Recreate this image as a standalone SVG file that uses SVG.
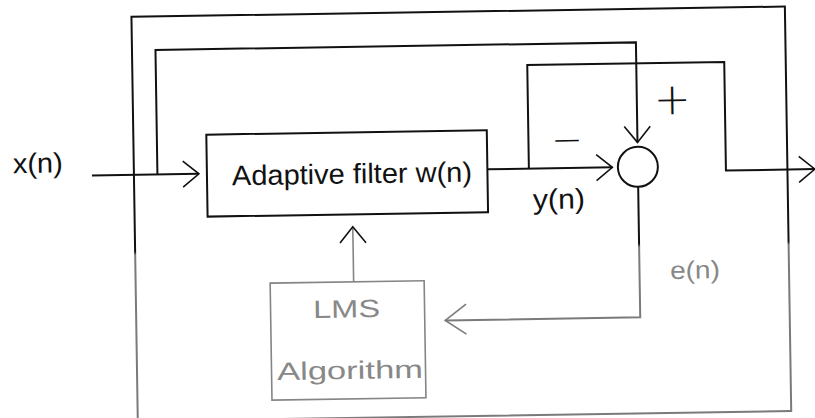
<svg xmlns="http://www.w3.org/2000/svg" width="815" height="418" viewBox="0 0 815 418">
<style>
  .ln { fill: none; stroke: #111; stroke-width: 2; }
  .lg { fill: none; stroke: url(#fade); stroke-width: 2; }
  .box { fill: none; stroke: #111; stroke-width: 2; }
  .boxg { fill: none; stroke: #858585; stroke-width: 1.6; }
  .t { font-family: "Liberation Sans", Arial, sans-serif; font-size: 28px; fill: #111; }
  .tg { font-family: "Liberation Sans", Arial, sans-serif; font-size: 25px; fill: #888; }
  .sym { font-family: "DejaVu Sans", sans-serif; font-weight: 200; fill: #111; text-anchor: middle; }
</style>
<defs>
  <linearGradient id="fade" gradientUnits="userSpaceOnUse" x1="0" y1="0" x2="0" y2="418">
    <stop offset="0.592" stop-color="#111"/>
    <stop offset="0.600" stop-color="#7a7a7a"/>
  </linearGradient>
  <marker id="ah" markerUnits="userSpaceOnUse" orient="auto" markerWidth="40" markerHeight="40" viewBox="-20 -20 40 40" refX="0" refY="0" overflow="visible">
    <path d="M-16,-13 L0,0 L-16,13" fill="none" stroke="#111" stroke-width="1.6"/>
  </marker>
  <marker id="ahg" markerUnits="userSpaceOnUse" orient="auto" markerWidth="40" markerHeight="40" viewBox="-20 -20 40 40" refX="0" refY="0" overflow="visible">
    <path d="M-21,-14 L0,0 L-21,16" fill="none" stroke="#7a7a7a" stroke-width="1.6"/>
  </marker>
</defs>
<rect width="815" height="418" fill="#fff"/>
<g transform="rotate(-0.9 407 209)">
  <g id="frame">
    <rect class="lg" x="134.5" y="12.5" width="653.5" height="404.5"/>
  </g>
  <g id="connectors">
    <path class="ln" d="M92.5,170.5 H199.5" marker-end="url(#ah)"/>
    <path class="ln" d="M158,170.5 V46 H638.5 V146" marker-end="url(#ah)"/>
    <path class="ln" d="M488,170.5 H613" marker-end="url(#ah)"/>
    <path class="ln" d="M529.5,170.5 V67 H726.5 V175.5 H815.5" marker-end="url(#ah)"/>
    <path class="boxg" d="M352.5,281 V226" marker-end="url(#ah)"/>
    <path class="lg" d="M638.5,190.5 V321 H443.5" marker-end="url(#ahg)"/>
  </g>
  <g id="input-label">
    <text class="t" x="13.5" y="167" textLength="50" lengthAdjust="spacingAndGlyphs">x(n)</text>
  </g>
  <g id="filter">
    <rect class="box" x="207.5" y="131.5" width="280.5" height="82"/>
    <text class="t" x="232.5" y="182.5" textLength="240" lengthAdjust="spacingAndGlyphs">Adaptive filter w(n)</text>
  </g>
  <g id="output-label">
    <text class="t" x="533" y="211" textLength="52" lengthAdjust="spacingAndGlyphs">y(n)</text>
  </g>
  <g id="sum">
    <circle class="ln" cx="638.5" cy="170.5" r="20"/>
    <text class="sym" x="673.8" y="118.5" font-size="44">+</text>
    <text class="sym" x="568" y="155" font-size="37.5">−</text>
  </g>
  <g id="error-label">
    <text class="tg" x="669" y="283" font-size="26" textLength="50" lengthAdjust="spacingAndGlyphs">e(n)</text>
  </g>
  <g id="lms">
    <rect class="boxg" x="269" y="281" width="154" height="117"/>
    <text class="tg" x="311.5" y="316.5" textLength="67" lengthAdjust="spacingAndGlyphs">LMS</text>
    <text class="tg" x="274.5" y="378" textLength="146" lengthAdjust="spacingAndGlyphs">Algorithm</text>
  </g>
</g>
</svg>
